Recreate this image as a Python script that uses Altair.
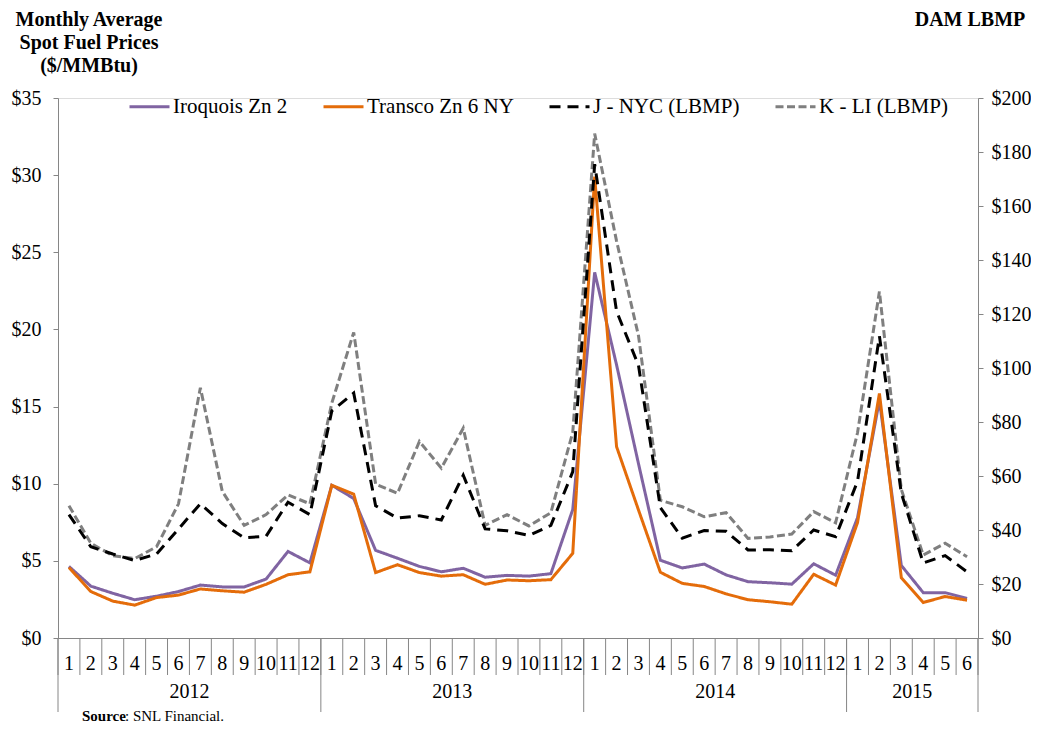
import altair as alt
import pandas as pd

FONT = "Liberation Serif, Times New Roman, serif"
AXIS_GRAY = "#868686"

# ---------------- data ----------------
years = ["2012", "2013", "2014", "2015"]
months_per_year = [12, 12, 12, 6]
month_labels = [str(m) for n in months_per_year for m in range(1, n + 1)]

iroquois = [4.64, 3.36, 2.90, 2.48, 2.71, 3.01, 3.43, 3.31, 3.31, 3.82, 5.61, 4.87,
            9.90, 9.04, 5.68, 5.17, 4.64, 4.29, 4.52, 3.94, 4.06, 4.01, 4.17, 8.33,
            23.70, 17.70, 11.30, 5.04, 4.54, 4.79, 4.09, 3.65, 3.58, 3.49, 4.81, 4.07,
            7.80, 15.40, 4.70, 2.94, 2.94, 2.56]
transco = [4.57, 3.01, 2.39, 2.13, 2.62, 2.78, 3.18, 3.06, 2.97, 3.48, 4.10, 4.29,
           9.90, 9.32, 4.24, 4.75, 4.24, 4.01, 4.10, 3.48, 3.76, 3.71, 3.78, 5.49,
           29.90, 12.40, 8.30, 4.26, 3.54, 3.34, 2.86, 2.48, 2.35, 2.19, 4.13, 3.43,
           7.48, 15.85, 3.90, 2.30, 2.69, 2.45]
j_nyc = [45.7, 33.8, 31.1, 28.7, 31.1, 40.4, 49.7, 42.4, 37.1, 37.7, 50.3, 45.7,
         84.1, 90.7, 49.0, 44.4, 45.3, 43.7, 60.3, 40.4, 39.7, 38.0, 41.7, 61.6,
         175.5, 121.0, 101.0, 48.3, 37.0, 39.8, 39.5, 32.6, 32.7, 32.3, 40.0, 37.5,
         58.0, 111.8, 53.6, 27.8, 30.5, 24.5]
k_li = [49.0, 35.1, 30.5, 29.4, 33.8, 49.7, 92.7, 54.3, 41.7, 45.7, 53.0, 49.7,
        87.0, 113.2, 57.0, 53.6, 72.8, 62.9, 77.7, 41.7, 45.7, 41.5, 46.4, 76.2,
        186.8, 147.0, 112.0, 51.0, 48.6, 44.9, 46.4, 36.9, 37.4, 38.5, 46.8, 42.7,
        76.0, 128.3, 55.0, 30.7, 35.1, 30.1]

series_names = ["Iroquois Zn 2", "Transco Zn 6 NY", "J - NYC (LBMP)", "K - LI (LBMP)"]
series_colors = ["#8064A2", "#E46C0A", "#000000", "#7F7F7F"]
series_dashes = [[1, 0], [1, 0], [11, 7], [8, 3.5]]

left_ticks = [0, 5, 10, 15, 20, 25, 30, 35]
right_ticks = [0, 20, 40, 60, 80, 100, 120, 140, 160, 180, 200]

left_title = "Monthly Average\nSpot Fuel Prices\n($/MMBtu)"
right_title = "DAM LBMP"
source_bold = "Source"
source_rest = ": SNL Financial."

# ---------------- tables ----------------
n = len(month_labels)
rows = []
for name, vals, grp in [(series_names[0], iroquois, "fuel"),
                        (series_names[1], transco, "fuel"),
                        (series_names[3], k_li, "lbmp"),
                        (series_names[2], j_nyc, "lbmp")]:
    for i, v in enumerate(vals):
        rows.append({"idx": i, "value": v, "series": name, "grp": grp})
df = pd.DataFrame(rows)

df_months = pd.DataFrame({"idx": list(range(n)), "label": month_labels})
df_mb = pd.DataFrame({"b": [i - 0.5 for i in range(n + 1)]})
starts = [sum(months_per_year[:k]) for k in range(len(years))]
df_yb = pd.DataFrame({"b": [s - 0.5 for s in starts] + [n - 0.5]})
df_years = pd.DataFrame({"c": [s + (m - 1) / 2 for s, m in zip(starts, months_per_year)],
                         "label": years})
one = pd.DataFrame({"a": [0]})

xscale = alt.Scale(domain=[-0.5, n - 0.5], nice=False, zero=False)
xaxis = alt.Axis(title=None, labels=False, ticks=False, grid=False,
                 domainColor=AXIS_GRAY, domainWidth=1)

legend_def = alt.Legend(title=None, orient="none", legendX=70, legendY=-13,
                        direction="horizontal", symbolType="stroke",
                        symbolSize=1600, symbolStrokeWidth=3,
                        labelFont=FONT, labelFontSize=21, labelColor="black",
                        columnPadding=29, labelOffset=2, padding=0)
color = alt.Color("series:N", scale=alt.Scale(domain=series_names, range=series_colors),
                  legend=legend_def)
dash = alt.StrokeDash("series:N", scale=alt.Scale(domain=series_names, range=series_dashes),
                      legend=legend_def)


def yaxis(orient, vals, pad):
    return alt.Axis(orient=orient, values=vals, labelExpr="'$' + datum.value", title=None,
                    grid=False, labelFont=FONT, labelFontSize=20, labelColor="black",
                    tickColor=AXIS_GRAY, domainColor=AXIS_GRAY, tickSize=5,
                    labelPadding=pad, domainWidth=1, tickWidth=1)


base = alt.Chart(df)
fuel = base.transform_filter(alt.datum.grp == "fuel").mark_line(strokeWidth=3).encode(
    x=alt.X("idx:Q", scale=xscale, axis=xaxis),
    y=alt.Y("value:Q", scale=alt.Scale(domain=[0, 35], nice=False),
            axis=yaxis("left", left_ticks, 12)),
    color=color, strokeDash=dash, detail="series:N",
)
lbmp = base.transform_filter(alt.datum.grp == "lbmp").mark_line(strokeWidth=3).encode(
    x=alt.X("idx:Q", scale=xscale, axis=xaxis),
    y=alt.Y("value:Q", scale=alt.Scale(domain=[0, 200], nice=False),
            axis=yaxis("right", right_ticks, 8)),
    color=color, strokeDash=dash, detail="series:N",
)

month_text = alt.Chart(df_months).mark_text(font=FONT, fontSize=20, baseline="alphabetic",
                                             align="center", color="black").encode(
    x=alt.X("idx:Q", scale=xscale, axis=xaxis), y=alt.value(572), text="label:N")
month_rules = alt.Chart(df_mb).mark_rule(color=AXIS_GRAY, strokeWidth=1).encode(
    x=alt.X("b:Q", scale=xscale, axis=xaxis), y=alt.value(540), y2=alt.value(577))
year_rules = alt.Chart(df_yb).mark_rule(color=AXIS_GRAY, strokeWidth=1).encode(
    x=alt.X("b:Q", scale=xscale, axis=xaxis), y=alt.value(540), y2=alt.value(614))
year_text = alt.Chart(df_years).mark_text(font=FONT, fontSize=20, baseline="alphabetic",
                                           align="center", color="black").encode(
    x=alt.X("c:Q", scale=xscale, axis=xaxis), y=alt.value(600), text="label:N")

t_left = alt.Chart(one).mark_text(text=left_title, lineBreak="\n", lineHeight=23,
                                  font=FONT, fontSize=20, fontWeight="bold",
                                  align="center", baseline="alphabetic", color="black").encode(
    x=alt.value(31), y=alt.value(-72))
t_right = alt.Chart(one).mark_text(text=right_title, font=FONT, fontSize=20, fontWeight="bold",
                                   align="center", baseline="alphabetic", color="black").encode(
    x=alt.value(912), y=alt.value(-72))
s_bold = alt.Chart(one).mark_text(text=source_bold, font=FONT, fontSize=15, fontWeight="bold",
                                  align="left", baseline="alphabetic", color="black").encode(
    x=alt.value(24), y=alt.value(623))
s_rest = alt.Chart(one).mark_text(text=source_rest, font=FONT, fontSize=15,
                                  align="left", baseline="alphabetic", color="black").encode(
    x=alt.value(67), y=alt.value(623))

chart = alt.layer(fuel, lbmp, month_rules, year_rules, month_text, year_text,
                  t_left, t_right, s_bold, s_rest).resolve_scale(
    y="independent"
).properties(
    width=920, height=540,
    padding={"left": 50, "top": 90, "right": 53, "bottom": 86},
    autosize=alt.AutoSizeParams(type="none"),
).configure_view(stroke=None).configure(background="white")

chart.save("out.html", embed_options={"renderer": "svg", "actions": False})
